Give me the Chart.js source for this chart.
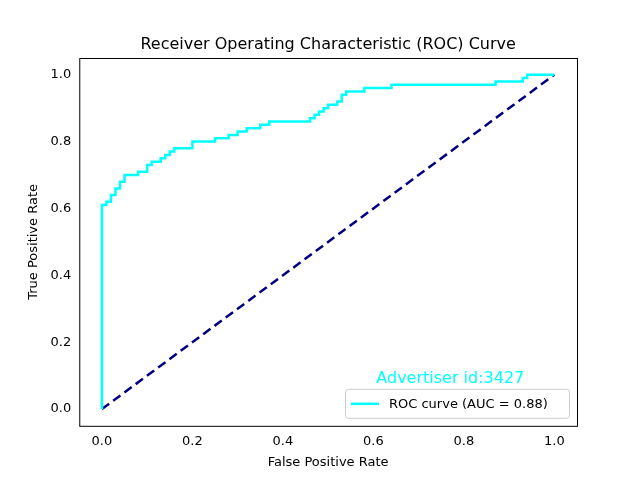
<!DOCTYPE html>
<html>
<head>
<script src="https://cdn.jsdelivr.net/npm/chart.js@4"></script>
<style>body{margin:0;background:#fff}#wrap{width:640px;height:480px}</style>
</head>
<body>
<div id="wrap"><canvas id="roc" width="640" height="480"></canvas></div>
<script>
const fpr = [0,0,0.01,0.01,0.02,0.02,0.03,0.03,0.04,0.04,0.05,0.05,0.08,0.08,0.10,0.10,0.11,0.11,0.13,0.13,0.14,0.14,0.15,0.15,0.16,0.16,0.20,0.20,0.25,0.25,0.28,0.28,0.30,0.30,0.32,0.32,0.35,0.35,0.37,0.37,0.46,0.46,0.47,0.47,0.48,0.48,0.49,0.49,0.50,0.50,0.52,0.52,0.53,0.53,0.54,0.54,0.58,0.58,0.64,0.64,0.71,0.71,0.87,0.87,0.93,0.93,0.94,0.94,1];
const tpr = [0,0.61,0.61,0.62,0.62,0.64,0.64,0.66,0.66,0.68,0.68,0.70,0.70,0.71,0.71,0.73,0.73,0.74,0.74,0.75,0.75,0.76,0.76,0.77,0.77,0.78,0.78,0.80,0.80,0.81,0.81,0.82,0.82,0.83,0.83,0.84,0.84,0.85,0.85,0.86,0.86,0.87,0.87,0.88,0.88,0.89,0.89,0.90,0.90,0.91,0.91,0.92,0.92,0.94,0.94,0.95,0.95,0.96,0.96,0.97,0.97,0.97,0.97,0.98,0.98,0.99,0.99,1.0,1.0];
const chance = [0, 1];
const ticks = [0, 0.2, 0.4, 0.6, 0.8, 1.0];
const aucLabel = 'ROC curve (AUC = 0.88)';
const advertiser = 'Advertiser id:3427';
const titleText = 'Receiver Operating Characteristic (ROC) Curve';

const rocPoints = fpr.map((x, i) => ({x: x, y: tpr[i]}));
const chancePoints = chance.map(v => ({x: v, y: v}));

const font = 'DejaVu Sans';

const legendPlugin = {
    id: 'legendBox',
    afterDraw(chart) {
        const ctx = chart.ctx;
        const a = chart.chartArea;
        ctx.save();
        // title, centred over the plot area
        ctx.font = '16px "' + font + '"';
        ctx.fillStyle = '#000';
        ctx.textAlign = 'center';
        ctx.textBaseline = 'alphabetic';
        ctx.fillText(titleText, (a.left + a.right) / 2, a.top - 9);

        ctx.fillStyle = '#00ffff';
        ctx.textBaseline = 'middle';
        ctx.fillText(advertiser, chart.scales.x.getPixelForValue(0.77), chart.scales.y.getPixelForValue(0.09));
        // legend box
        const w = 224, h = 29, x = a.right - 8 - w, y = a.bottom - 8 - h;
        ctx.fillStyle = 'rgba(255,255,255,0.8)';
        ctx.strokeStyle = '#cccccc';
        ctx.lineWidth = 1;
        ctx.beginPath();
        ctx.roundRect(x + 0.5, y + 0.5, w, h, 3);
        ctx.fill();
        ctx.stroke();
        ctx.strokeStyle = '#00ffff';
        ctx.lineWidth = 2.5;
        ctx.beginPath();
        ctx.moveTo(x + 6, y + h / 2 + 0.5);
        ctx.lineTo(x + 34, y + h / 2 + 0.5);
        ctx.stroke();
        ctx.fillStyle = '#000';
        ctx.font = '13px "' + font + '"';
        ctx.textAlign = 'left';
        ctx.fillText(aucLabel, x + 44, y + h / 2 + 1);
        ctx.restore();
    }
};

const frame = {
    id: 'frame',
    afterDatasetsDraw(chart) {
        const a = chart.chartArea, ctx = chart.ctx;
        ctx.save();
        ctx.strokeStyle = '#000';
        ctx.lineWidth = 1;
        ctx.strokeRect(a.left + 0.5, a.top + 0.5, a.width, a.height);
        ctx.restore();
    }
};

Chart.defaults.font.family = font;
Chart.defaults.color = '#000';

new Chart(document.getElementById('roc').getContext('2d'), {
    type: 'line',
    data: {
        datasets: [{
            label: aucLabel,
            data: rocPoints,
            borderColor: '#00ffff',
            borderWidth: 2.5,
            pointRadius: 0,
            tension: 0,
            fill: false
        }, {
            label: 'chance',
            data: chancePoints,
            borderColor: '#000080',
            borderWidth: 2.5,
            borderDash: [9, 5],
            pointRadius: 0,
            fill: false
        }]
    },
    options: {
        responsive: false,
        animation: false,
        layout: {padding: {left: 22, right: 63, top: 58, bottom: 6}},
        plugins: {
            legend: {display: false},
            tooltip: {enabled: false},
            title: {display: false}
        },
        scales: {
            x: {
                type: 'linear', min: -0.05, max: 1.05,
                afterBuildTicks: s => { s.ticks = ticks.map(v => ({value: v})); },
                ticks: {callback: v => v.toFixed(1), font: {size: 13}, padding: 3},
                grid: {display: false, drawTicks: true, tickLength: 5, tickColor: '#000'},
                border: {display: false},
                title: {display: true, text: 'False Positive Rate', font: {size: 13}, padding: {top: 2}}
            },
            y: {
                type: 'linear', min: -0.05, max: 1.05,
                afterBuildTicks: s => { s.ticks = ticks.map(v => ({value: v})); },
                ticks: {callback: v => v.toFixed(1), font: {size: 13}, padding: 3},
                grid: {display: false, drawTicks: true, tickLength: 5, tickColor: '#000'},
                border: {display: false},
                title: {display: true, text: 'True Positive Rate', font: {size: 13}, padding: {bottom: 6}}
            }
        }
    },
    plugins: [legendPlugin, frame]
});
</script>
</body>
</html>
